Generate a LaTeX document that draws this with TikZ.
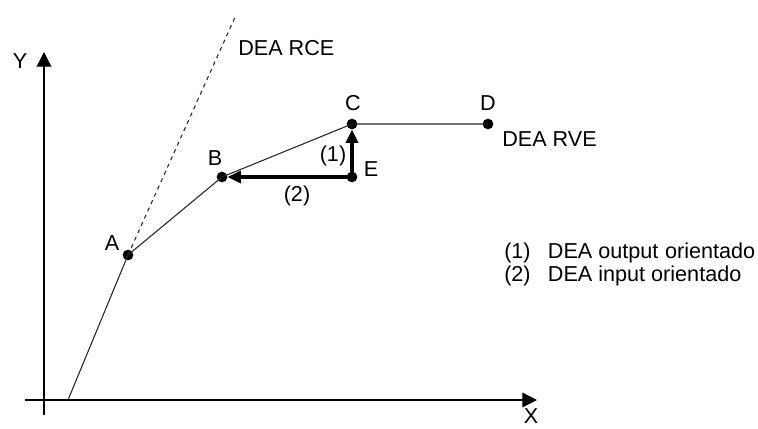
\documentclass[tikz,border=0pt]{standalone}
\usepackage{fontspec}
\setmainfont{Liberation Sans}
\usetikzlibrary{arrows.meta}
\begin{document}
\begin{tikzpicture}[x=0.75pt,y=-0.75pt,
  lbl/.style={font=\fontsize{16.2}{19}\selectfont, inner sep=0pt},
  pt/.style={circle, fill=black, minimum size=8pt, inner sep=0pt},
  axis/.style={line width=1pt, -{Triangle[length=11pt,width=11pt]}},
  thin line/.style={line width=0.8pt, draw=black!85},
  move/.style={line width=2.4pt, -{Triangle[length=10pt,width=9pt]}}]
\useasboundingbox (0,0) rectangle (758,429);
% axes
\coordinate (xs) at (25,400);
\coordinate (xe) at (537,400);
\coordinate (ys) at (44,415);
\coordinate (ye) at (44,52);
\draw[axis] (xs) -- (xe);
\draw[axis] (ys) -- (ye);
\node[lbl] (ylab) at (20,61) {Y};
\node[lbl] (xlab) at (531,416) {X};
% points
\node[pt] (A) at (128,255) {};
\node[pt] (B) at (222,177) {};
\node[pt] (C) at (352,124) {};
\node[pt] (D) at (488,124) {};
\node[pt] (E) at (352,177) {};
\coordinate (O) at (68,400);
\coordinate (R) at (236,15);
% frontier
\draw[thin line] (O) -- (A.center) -- (B.center) -- (C.center) -- (D.center);
\draw[thin line, dashed] (A.center) -- (R);
% movements
\draw[move] (E.center) -- (C.south);
\draw[move] (E.center) -- (B.east);
% labels
\node[lbl] (lA) at (112,243) {A};
\node[lbl] (lB) at (215,158) {B};
\node[lbl] (lC) at (353,103) {C};
\node[lbl] (lD) at (488,103) {D};
\node[lbl] (lE) at (371,169) {E};
\node[lbl] (l1) at (333,156) {(1)};
\node[lbl] (l2) at (297,196) {(2)};
\node[lbl, anchor=west] (rce) at (238,48) {DEA RCE};
\node[lbl, anchor=west] (rve) at (502,139) {DEA RVE};
\node[lbl, anchor=west] (leg1) at (504,253) {(1)\hspace{13pt}DEA output\hspace{5pt}orientado};
\node[lbl, anchor=west] (leg2) at (504,276) {(2)\hspace{13pt}DEA input orientado};
\end{tikzpicture}
\end{document}
